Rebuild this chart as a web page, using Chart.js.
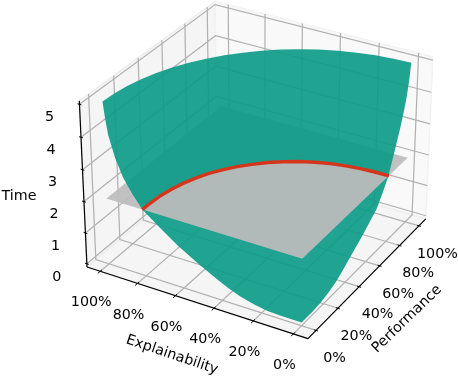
<!DOCTYPE html>
<html><head><meta charset="utf-8">
<style>html,body{margin:0;padding:0;background:#fff}canvas{display:block}</style>
<script src="https://cdn.jsdelivr.net/npm/chart.js@4/dist/chart.umd.min.js"></script>
</head><body><canvas id="c" width="458" height="376"></canvas>
<script>
// ---- values ----
const explTicks = [100, 80, 60, 40, 20, 0];
const perfTicks = [0, 20, 40, 60, 80, 100];
const timeTicks = [0, 1, 2, 3, 4, 5];
const explLimits = [107.2, -7.2];
const perfLimits = [-7.2, 107.2];
const timeLimits = [-0.104, 5.104];
// surface height along the Performance = 0% edge
const edgeExpl = [0, 10, 17, 24, 31, 37, 42.7, 53, 63, 72, 81, 86, 90.6, 94.5, 97.7, 99, 100];
const edgeExplTime = [0, 0, 0.02, 0.09, 0.21, 0.35, 0.52, 0.85, 1.21, 1.59, 2.0, 2.4, 2.82, 3.37, 4.02, 4.5, 5];
// surface height along the Explainability = 0% edge
const edgePerf = [0, 10, 17, 24, 31, 37, 42.7, 56.6, 69.7, 75, 80.5, 85, 90.9, 94, 96.6, 98.5, 100];
const edgePerfTime = [0, 0, 0.02, 0.09, 0.2, 0.34, 0.5, 0.88, 1.3, 1.62, 2.0, 2.5, 3.2, 3.62, 4.05, 4.5, 5];
// top rim of the surface (time = 5)
const rimExpl = [100, 99.6, 98.5, 96.6, 94, 90.6, 86.6, 81.9, 76.6, 70.7, 64.3, 57.4, 50, 42.3, 34.2, 25.9, 17.4, 8.7, 0];
const rimPerf = [0, 8.7, 17.4, 25.9, 34.2, 42.3, 50, 57.4, 64.3, 70.7, 76.6, 81.9, 86.6, 90.6, 94, 96.6, 98.5, 99.6, 100];
// red intersection arc (time = 2)
const arcExpl = [81, 80.9, 80.4, 79.2, 77.5, 75.1, 72.1, 68.3, 64, 59, 53.7, 47.8, 41.6, 35, 28.2, 21.2, 14.2, 7.1, 0];
const arcPerf = [0, 7.1, 14.2, 21.2, 28.2, 35, 41.6, 47.8, 53.7, 59, 64, 68.3, 72.1, 75.1, 77.5, 79.2, 80.4, 80.9, 81];
const planeTime = 2;
const planeExpl = [100, 0, 0, 100];
const planePerf = [0, 0, 100, 100];

// ---- camera: elevation 30, azimuth -60, distance 10 ----
const U = [0.866, 0.5, 0], V = [-0.25, 0.433, 0.866], N = [0.433, -0.75, 0.5];
const HALF = [0.5714, 0.5714, 0.4286], DIST = 10;
function project(e, p, t) {
  const b = [
    ((e - explLimits[0]) / (explLimits[1] - explLimits[0]) * 2 - 1) * HALF[0],
    ((p - perfLimits[0]) / (perfLimits[1] - perfLimits[0]) * 2 - 1) * HALF[1],
    ((t - timeLimits[0]) / (timeLimits[1] - timeLimits[0]) * 2 - 1) * HALF[2]
  ];
  const dot = (a) => a[0] * b[0] + a[1] * b[1] + a[2] * b[2];
  const s = DIST / (DIST - dot(N));
  return { x: 259.4 + 221.6 * dot(U) * s, y: 162.2 - 221 * dot(V) * s };
}

const [E0, E1] = explLimits, [P0, P1] = perfLimits, [T0, T1] = timeLimits;
const datasets = [];
function add(points, style) {
  datasets.push(Object.assign({
    data: points.map(q => project(q[0], q[1], q[2])),
    showLine: true, pointRadius: 0, tension: 0, borderWidth: 0, fill: false, clip: false
  }, style));
}
const poly = (pts, color, edge) => add(pts, { fill: 'shape', backgroundColor: color,
  borderColor: edge || 'rgba(0,0,0,0)', borderWidth: edge ? 1.4 : 0 });
const line = (pts, color, w) => add(pts, { borderColor: color, borderWidth: w });

// panes
poly([[E0,P0,T0],[E0,P1,T0],[E0,P1,T1],[E0,P0,T1],[E0,P0,T0]], '#f5f5f5', '#eeeeee');
poly([[E0,P1,T0],[E1,P1,T0],[E1,P1,T1],[E0,P1,T1],[E0,P1,T0]], '#f9f9f9', '#f2f2f2');
poly([[E0,P0,T0],[E1,P0,T0],[E1,P1,T0],[E0,P1,T0],[E0,P0,T0]], '#f5f5f5', '#eeeeee');
// grid
const GRID = '#b2b2b2', GW = 1.25;
explTicks.forEach(e => line([[e,P0,T0],[e,P1,T0],[e,P1,T1]], GRID, GW));
perfTicks.forEach(p => line([[E1,p,T0],[E0,p,T0],[E0,p,T1]], GRID, GW));
timeTicks.forEach(t => line([[E0,P0,t],[E0,P1,t],[E1,P1,t]], GRID, GW));
// plane under the surface
const planePts = planeExpl.map((e, i) => [e, planePerf[i], planeTime]);
poly(planePts, 'rgba(188,188,188,0.93)');
// surface
const surface = [];
for (let i = edgeExpl.length - 1; i >= 0; i--) surface.push([edgeExpl[i], 0, edgeExplTime[i]]);
edgePerf.forEach((r, i) => surface.push([0, r, edgePerfTime[i]]));
for (let i = rimExpl.length - 1; i >= 0; i--) surface.push([rimExpl[i], rimPerf[i], 5]);
poly(surface, 'rgba(14,155,137,0.92)');
// plane part in front of the surface
const front = [[0, 0, planeTime]];
arcExpl.forEach((e, i) => front.push([e, arcPerf[i], planeTime]));
poly(front, 'rgba(188,188,188,0.93)');
// red arc
line(arcExpl.map((e, i) => [e, arcPerf[i], planeTime]), '#d5361b', 3.4);
// axes
line([[E0,P0,T0],[E0,P0,T1]], '#000', 1.2);
line([[E0,P0,T0],[E1,P0,T0]], '#000', 1.2);
line([[E1,P0,T0],[E1,P1,T0]], '#000', 1.2);
explTicks.forEach(e => line([[e,P0-2,T0],[e,P0+1.3,T0]], '#000', 1));
perfTicks.forEach(p => line([[E1-1,p,T0],[E1+1,p,T0]], '#000', 1));
timeTicks.forEach(t => line([[E0+1,P0,t],[E0-1,P0,t]], '#000', 1));
datasets.forEach((d, i) => d.order = datasets.length - i);

const FONT = '14.3px "DejaVu Sans"';
const textPlugin = {
  id: 'axisText',
  afterDatasetsDraw(chart) {
    const { ctx, scales: { x, y } } = chart;
    const put = (txt, px, py, rot) => {
      ctx.save();
      ctx.translate(px, py);
      if (rot) ctx.rotate(rot * Math.PI / 180);
      ctx.font = FONT; ctx.fillStyle = '#000';
      ctx.textAlign = 'center'; ctx.textBaseline = 'middle';
      ctx.fillText(txt, 0, 0);
      ctx.restore();
    };
    const at = (e, p, t, dx, dy) => {
      const q = project(e, p, t);
      return [x.getPixelForValue(q.x) + dx, y.getPixelForValue(q.y) + dy];
    };
    explTicks.forEach(e => put(e + '%', ...at(e, P0, T0, -9, 31.5)));
    perfTicks.forEach(p => put(p + '%', ...at(E1, p, T0, 18.5, 28)));
    timeTicks.forEach(t => put(String(t), ...at(E0, P0, t, -30, 13)));
    put('Time', 19, 196);
    put('Explainability', 172, 355, 18.7);
    put('Performance', 407, 319, -44);
  }
};

new Chart(document.getElementById('c'), {
  type: 'scatter',
  data: { datasets },
  plugins: [textPlugin],
  options: {
    responsive: false, animation: false, events: [],
    layout: { padding: 0 },
    plugins: { legend: { display: false }, tooltip: { enabled: false } },
    scales: {
      x: { type: 'linear', min: 0, max: 458, display: false },
      y: { type: 'linear', min: 0, max: 376, reverse: true, display: false }
    }
  }
});
</script></body></html>
